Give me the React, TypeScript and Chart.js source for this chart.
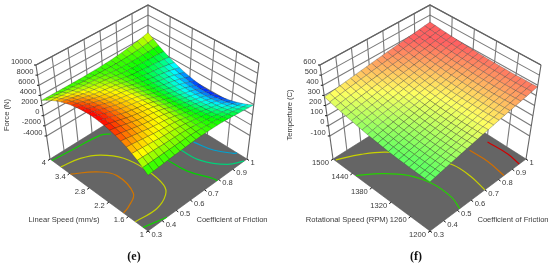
import React, { useEffect, useRef } from "react";
import { Chart, registerables } from "chart.js";

Chart.register(...registerables);

const frictionTicks = [0.3, 0.4, 0.5, 0.6, 0.7, 0.8, 0.9, 1];
const speedTicks = [1, 1.6, 2.2, 2.8, 3.4, 4];
const rpmTicks = [1200, 1260, 1320, 1380, 1440, 1500];
const forceTicks = [-4000, -2000, 0, 2000, 4000, 6000, 8000, 10000];
const tempTicks = [-100, 0, 100, 200, 300, 400, 500, 600];

// rows: friction 0.3 -> 1 ; columns: speed 1 -> 4
const forceGrid = [
  [2700,3500,4220,4860,5420,5890,6280,6580,6800,6940,7000,6970,6860,6670,6400,6040,5600,5070,4460,3770,3000],
  [2760,3500,4160,4740,5250,5690,6040,6320,6520,6650,6700,6670,6570,6390,6140,5810,5400,4910,4350,3710,3000],
  [2820,3480,4080,4600,5060,5450,5770,6020,6200,6310,6350,6330,6230,6070,5830,5530,5160,4720,4210,3640,2990],
  [2880,3470,4000,4460,4870,5210,5490,5710,5870,5960,6000,5970,5890,5740,5530,5260,4930,4530,4080,3560,2980],
  [2950,3460,3920,4330,4680,4970,5220,5410,5540,5620,5650,5620,5540,5410,5220,4980,4690,4340,3940,3480,2970],
  [3000,3440,3830,4180,4480,4730,4940,5100,5210,5280,5300,5280,5200,5090,4920,4710,4450,4150,3800,3400,2960],
  [3040,3430,3770,4070,4340,4560,4740,4880,4980,5030,5050,5030,4960,4850,4710,4520,4290,4020,3710,3350,2960],
  [3080,3410,3710,3970,4200,4390,4540,4660,4740,4790,4800,4780,4720,4620,4490,4330,4120,3890,3610,3300,2960],
  [3120,3410,3660,3890,4080,4250,4380,4480,4550,4590,4600,4580,4520,4440,4320,4170,4000,3780,3550,3270,2970],
  [3150,3380,3580,3750,3900,4030,4140,4210,4270,4300,4300,4280,4240,4170,4070,3950,3810,3640,3450,3230,2990],
  [3140,3300,3440,3570,3670,3760,3840,3890,3930,3950,3950,3930,3900,3850,3790,3700,3600,3480,3340,3190,3020],
  [3110,3180,3240,3290,3330,3370,3400,3420,3440,3450,3450,3440,3430,3410,3380,3350,3310,3260,3200,3140,3070],
  [3060,3050,3050,3050,3050,3040,3040,3040,3050,3050,3050,3050,3060,3070,3070,3080,3090,3100,3110,3120,3130],
  [3000,2920,2860,2800,2750,2710,2680,2660,2650,2640,2650,2670,2690,2720,2770,2820,2880,2950,3030,3110,3210],
  [2900,2780,2670,2580,2500,2440,2390,2360,2340,2340,2350,2380,2420,2480,2560,2650,2750,2870,3000,3160,3320],
  [2750,2580,2420,2290,2190,2100,2040,1990,1970,1980,2000,2050,2110,2200,2320,2450,2610,2780,2980,3210,3450],
  [2600,2380,2200,2030,1900,1800,1720,1670,1660,1660,1700,1760,1860,1980,2130,2300,2510,2740,3000,3290,3610],
  [2420,2170,1940,1760,1600,1490,1400,1350,1330,1350,1400,1480,1600,1760,1940,2170,2420,2710,3030,3390,3780],
  [2240,1930,1650,1420,1240,1090,990,930,910,930,1000,1110,1260,1450,1690,1970,2290,2650,3050,3500,3990],
  [2060,1680,1340,1060,830,660,530,460,440,470,550,680,870,1110,1400,1750,2140,2590,3090,3640,4240],
  [1900,1430,1030,680,400,190,30,-60,-80,-50,50,210,440,720,1080,1490,1960,2500,3120,3830,4500],
];

// rows: friction 0.3 -> 1 ; columns: rpm 1200 -> 1500
const tempGrid = [
  [167,166,166,167,169,171,173,176,180,185,191,197,204,212,221,230,239,249,260,272,285],
  [178,177,176,177,179,180,183,186,190,194,200,206,212,220,229,237,247,257,268,279,292],
  [189,188,187,188,189,191,193,196,199,204,209,215,222,229,238,246,256,265,276,287,300],
  [200,198,198,198,199,201,203,205,209,213,219,224,230,238,246,254,264,273,283,295,307],
  [211,209,208,208,210,211,213,215,218,222,227,233,239,246,254,262,271,281,291,302,314],
  [222,220,219,219,220,221,223,225,228,232,237,241,247,254,262,270,279,288,298,309,321],
  [232,230,229,229,229,230,232,234,237,241,246,250,256,263,271,279,288,296,306,317,329],
  [243,241,239,239,240,240,242,244,246,250,255,259,265,271,279,287,295,304,314,324,336],
  [254,251,250,249,250,250,252,253,256,259,264,268,273,280,287,295,303,312,321,332,343],
  [265,262,261,260,260,260,262,263,265,268,273,277,282,288,296,303,311,319,329,339,350],
  [276,273,271,270,270,270,272,273,275,278,282,286,291,297,304,311,320,328,337,347,358],
  [287,284,282,281,281,281,281,282,284,287,291,295,300,306,313,320,327,335,344,354,365],
  [298,295,292,291,291,290,291,292,294,296,300,304,308,314,321,328,335,343,352,361,372],
  [309,306,303,302,301,301,301,302,303,306,309,313,317,323,329,336,343,351,359,369,379],
  [320,316,314,312,311,311,311,312,314,316,320,323,327,333,338,345,352,359,367,377,387],
  [331,328,326,325,325,325,325,326,327,329,333,336,340,345,350,356,362,370,377,385,394],
  [341,339,337,335,335,335,335,337,338,340,343,346,350,354,358,364,370,377,384,393,401],
  [352,350,349,347,346,346,347,348,349,351,354,357,361,364,369,374,380,387,393,400,408],
  [363,361,359,359,358,358,359,359,361,362,365,368,371,375,379,384,390,395,401,407,415],
  [374,372,371,370,370,370,371,371,373,374,377,379,382,386,390,395,399,405,410,417,423],
  [385,383,383,383,381,381,382,383,384,385,388,390,393,396,400,404,408,413,419,425,430],
];

// contour lines on the floor: [friction, speed or rpm]
const forceContour5500 = [[0.3,3.37],[0.41,3.04],[0.465,2.66],[0.433,2.02],[0.35,1.81],[0.3,1.75]];
const forceContour4500 = [[0.3,3.67],[0.419,3.58],[0.51,3.37],[0.58,2.95],[0.601,2.35],[0.584,1.75],[0.54,1.5],[0.44,1.34],[0.3,1.39]];
const forceContour3000a = [[0.3,3.94],[0.444,3.89],[0.62,3.82],[0.664,3.7]];
const forceContour3000b = [[0.3,1.15],[0.433,1]];
const forceContour2500 = [[0.727,2.26],[0.737,1.7],[0.787,1.1],[0.79,1]];
const forceContour2000 = [[0.825,2.29],[0.839,1.72],[0.907,1.2],[0.979,1]];
const forceContour1200 = [[0.9125,2.245],[0.937,1.75],[0.986,1.35],[1,1.3]];
const tempContour290 = [[0.307,1494],[0.433,1470],[0.536,1440],[0.65,1380],[0.717,1306],[0.72,1254],[0.7,1200]];
const tempContour240 = [[0.303,1430],[0.41,1397],[0.5,1353],[0.545,1299],[0.545,1237],[0.517,1200]];
const tempContour330 = [[0.853,1313],[0.857,1258],[0.839,1200]];
const tempContour370 = [[0.96,1303],[0.965,1242],[0.951,1200]];

type P = [number, number];
type Panel = {
  F: P; R: P; L: P; B: P; tF: P; tR: P; tL: P; tB: P;
  zFloor: number; zTop: number; vMin: number; vMax: number;
};

const panelE: Panel = {
  F: [148, 231], R: [247, 159], L: [50, 159], B: [148, 98],
  tF: [148, 139], tR: [259, 63], tL: [36, 65], tB: [148, 5],
  zFloor: -8540, zTop: 10000, vMin: 1, vMax: 4,
};
const panelF: Panel = {
  F: [430, 231], R: [526, 159], L: [333, 159], B: [430, 98],
  tF: [430, 139], tR: [541, 65], tL: [320, 65], tB: [430, 5],
  zFloor: -327, zTop: 600, vMin: 1200, vMax: 1500,
};

const bil = (a: P, b: P, c: P, d: P, u: number, v: number, k: number) =>
  a[k] * (1 - u) * (1 - v) + b[k] * u * (1 - v) + c[k] * (1 - u) * v + d[k] * u * v;

// friction and second factor (as 0..1 fractions) + height -> chart coordinates
function project(p: Panel, u: number, v: number, z: number) {
  const w = (z - p.zFloor) / (p.zTop - p.zFloor);
  const fx = bil(p.F, p.R, p.L, p.B, u, v, 0), fy = bil(p.F, p.R, p.L, p.B, u, v, 1);
  const tx = bil(p.tF, p.tR, p.tL, p.tB, u, v, 0), ty = bil(p.tF, p.tR, p.tL, p.tB, u, v, 1);
  return { x: fx + (tx - fx) * w, y: fy + (ty - fy) * w };
}
const uOf = (f: number) => (f - 0.3) / 0.7;
const vOf = (p: Panel, s: number) => (s - p.vMin) / (p.vMax - p.vMin);

function ramp(stops: [number, number[]][], z: number) {
  if (z <= stops[0][0]) return stops[0][1];
  for (let i = 1; i < stops.length; i++) {
    if (z <= stops[i][0]) {
      const t = (z - stops[i - 1][0]) / (stops[i][0] - stops[i - 1][0]);
      return stops[i - 1][1].map((c, k) => c + (stops[i][1][k] - c) * t);
    }
  }
  return stops[stops.length - 1][1];
}
const forceStops: [number, number[]][] = [
  [-100, [0, 0, 255]], [1450, [0, 255, 255]], [2750, [0, 255, 0]], [4400, [255, 255, 0]], [6900, [255, 0, 0]],
];
const tempStops: [number, number[]][] = [
  [180, [0, 255, 0]], [290, [255, 255, 0]], [395, [255, 0, 0]],
];
const rgba = (c: number[], m = 1) =>
  `rgb(${Math.round(c[0] * m)},${Math.round(c[1] * m)},${Math.round(c[2] * m)})`;
const pale = (c: number[], a: number) => c.map((x) => 255 - (255 - x) * a);

function line(data: { x: number; y: number }[], color: string, width: number, extra: object = {}) {
  return { data, borderColor: color, borderWidth: width, pointRadius: 0, showLine: true, fill: false, tension: 0, ...extra };
}

function panelSets(p: Panel, zTicks: number[], sTicks: number[], grid: number[][], contours: [number[][], number][], stops: [number, number[]][], alpha: number, edge: string) {
  const out: any[] = [];
  const gridColor = "#7a7a7a", frameColor = "#636363";
  // walls
  for (const z of zTicks) {
    out.push(line([project(p, 0, 1, z), project(p, 1, 1, z), project(p, 1, 0, z)], gridColor, 1.1));
  }
  frictionTicks.forEach((f) => {
    const u = uOf(f);
    out.push(line([project(p, u, 1, p.zFloor), project(p, u, 1, p.zTop)], u === 0 || u === 1 ? frameColor : gridColor, 1.1));
  });
  sTicks.forEach((s) => {
    const v = vOf(p, s);
    if (v < 1) out.push(line([project(p, 1, v, p.zFloor), project(p, 1, v, p.zTop)], v === 0 ? frameColor : gridColor, 1.1));
  });
  out.push(line([project(p, 0, 1, p.zTop), project(p, 1, 1, p.zTop), project(p, 1, 0, p.zTop)], frameColor, 1.2));
  // floor
  const c = [project(p, 0, 0, p.zFloor), project(p, 1, 0, p.zFloor), project(p, 1, 1, p.zFloor), project(p, 0, 1, p.zFloor)];
  out.push(line([...c, c[0]], "#555555", 0.6, { fill: "shape", backgroundColor: "#656565" }));
  // axis ticks
  frictionTicks.forEach((f) => {
    const a = project(p, uOf(f), 0, p.zFloor);
    out.push(line([a, { x: a.x + 2, y: a.y + 1.5 }], "#111111", 1));
  });
  sTicks.forEach((s) => {
    const a = project(p, 0, vOf(p, s), p.zFloor);
    out.push(line([a, { x: a.x - 2, y: a.y + 1.5 }], "#111111", 1));
  });
  zTicks.forEach((z) => {
    const a = project(p, 0, 1, z);
    out.push(line([a, { x: a.x - 2, y: a.y }], "#111111", 1));
  });
  // contours
  contours.forEach(([pts, level]) => {
    out.push(line(pts.map(([f, s]) => project(p, uOf(f), vOf(p, s), p.zFloor)), rgba(ramp(stops, level), 0.82), 1.2, { tension: 0.4 }));
  });
  // surface, far cells first
  const n = grid.length - 1, m = grid[0].length - 1;
  for (let k = n + m - 2; k >= 0; k--) {
    for (let i = n - 1; i >= 0; i--) {
      const j = k - i;
      if (j < 0 || j >= m) continue;
      const zs = [grid[i][j], grid[i + 1][j], grid[i + 1][j + 1], grid[i][j + 1]];
      const pts = [
        project(p, i / n, j / m, zs[0]), project(p, (i + 1) / n, j / m, zs[1]),
        project(p, (i + 1) / n, (j + 1) / m, zs[2]), project(p, i / n, (j + 1) / m, zs[3]),
      ];
      const avg = (zs[0] + zs[1] + zs[2] + zs[3]) / 4;
      out.push(line([...pts, pts[0]], edge, 0.7, { fill: "shape", backgroundColor: rgba(pale(ramp(stops, avg), alpha)) }));
    }
  }
  return out;
}

const labelPlugin = {
  id: "panelLabels",
  afterDatasetsDraw(chart: any) {
    const ctx = chart.ctx;
    ctx.save();
    ctx.fillStyle = "#3a3a3a";
    ctx.font = '7.6px "Liberation Sans"';
    ctx.textBaseline = "middle";
    const put = (t: string, x: number, y: number, a: CanvasTextAlign) => {
      ctx.textAlign = a;
      ctx.fillText(t, x, y);
    };
    const side = (p: Panel, zTicks: number[], sTicks: number[], sTitle: string, sTitleX: number, fTitleX: number, zTitle: string, zTitleX: number) => {
      frictionTicks.forEach((f) => {
        const a = project(p, uOf(f), 0, p.zFloor);
        put(String(f), a.x + 3.5, a.y + 3.8, "left");
      });
      sTicks.forEach((s) => {
        const a = project(p, 0, vOf(p, s), p.zFloor);
        put(String(s), a.x - 4, a.y + 3.8, "right");
      });
      zTicks.forEach((z) => {
        const a = project(p, 0, 1, z);
        put(String(z), a.x - 4, a.y - 3.5, "right");
      });
      put(sTitle, sTitleX, 219.5, "center");
      put("Coefficient of Friction", fTitleX, 219.5, "center");
      ctx.save();
      ctx.translate(zTitleX, 115);
      ctx.rotate(-Math.PI / 2);
      put(zTitle, 0, 0, "center");
      ctx.restore();
    };
    side(panelE, forceTicks, speedTicks, "Linear Speed (mm/s)", 64, 232, "Force (N)", 7);
    side(panelF, tempTicks, rpmTicks, "Rotational Speed (RPM)", 347, 513, "Temperture (C)", 290);
    ctx.fillStyle = "#111111";
    ctx.font = 'bold 12px "Liberation Serif"';
    put("(e)", 134, 257, "center");
    put("(f)", 416, 257, "center");
    ctx.restore();
  },
};

export default function App() {
  const ref = useRef<HTMLCanvasElement>(null);
  useEffect(() => {
    document.body.style.margin = "0";
    const sets = [
      ...panelSets(panelE, forceTicks, speedTicks, forceGrid, [
        [forceContour5500, 5500], [forceContour4500, 4300], [forceContour3000a, 2900], [forceContour3000b, 2900],
        [forceContour2500, 2800], [forceContour2000, 2000], [forceContour1200, 1100],
      ], forceStops, 1, "rgba(30,30,30,0.32)"),
      ...panelSets(panelF, tempTicks, rpmTicks, tempGrid, [
        [tempContour240, 200], [tempContour290, 285], [tempContour330, 340], [tempContour370, 395],
      ], tempStops, 0.62, "rgba(50,50,50,0.42)"),
    ];
    const chart = new Chart(ref.current as HTMLCanvasElement, {
      type: "scatter",
      data: { datasets: sets.reverse() },
      options: {
        animation: false,
        responsive: false,
        events: [],
        layout: { padding: 0 },
        scales: {
          x: { type: "linear", min: 0, max: 550, display: false },
          y: { type: "linear", min: 0, max: 267, reverse: true, display: false },
        },
        plugins: { legend: { display: false }, tooltip: { enabled: false } },
      },
      plugins: [labelPlugin],
    } as any);
    return () => chart.destroy();
  }, []);
  return (
    <canvas
      ref={ref}
      width={550}
      height={267}
      style={{ position: "absolute", left: 0, top: 0, display: "block", background: "#ffffff" }}
    />
  );
}
